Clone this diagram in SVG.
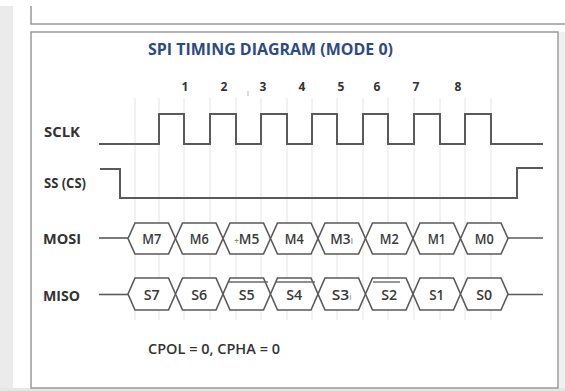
<svg xmlns="http://www.w3.org/2000/svg" width="565" height="391" viewBox="0 0 565 391">
<style>
.bg{fill:#ffffff}
.frame{fill:none;stroke:#9a9a9a;stroke-width:1.5}
.grid{stroke:#e4e4e4;stroke-width:1}
.sig{fill:none;stroke:#5a5a5a;stroke-width:2;stroke-linejoin:miter}
.hex{fill:#ffffff;stroke:#5a5a5a;stroke-width:1.6}
.bus{stroke:#5a5a5a;stroke-width:1.6}
.lbl{font-family:"Open Sans","Liberation Sans",sans-serif;font-weight:700;font-size:13.5px;fill:#333333}
.num{font-family:"Open Sans","Liberation Sans",sans-serif;font-weight:700;font-size:12px;fill:#333333;text-anchor:middle}
.hx{font-family:"Open Sans","Liberation Sans",sans-serif;font-weight:600;font-size:14px;fill:#3a3a3a;text-anchor:middle}
.title{font-family:"Open Sans","Liberation Sans",sans-serif;font-weight:700;font-size:15.5px;fill:#2c4a86}
.note{font-family:"Open Sans","Liberation Sans",sans-serif;font-weight:600;font-size:14.5px;fill:#333333}
</style>
<rect class="bg" x="0" y="0" width="565" height="391"/>
<rect x="0" y="6" width="13" height="385" fill="#ebebeb"/>
<rect x="559" y="32" width="6" height="359" fill="#f0f0f0"/>
<rect x="0" y="388" width="565" height="3" fill="#e6e6e6"/>
<path class="frame" d="M31,6 V24 H565"/>
<rect class="frame" x="31" y="32" width="527" height="356"/>

<g id="title"><text class="title" x="148" y="55" textLength="245" lengthAdjust="spacingAndGlyphs">SPI TIMING DIAGRAM (MODE 0)</text></g>

<g id="grid">
<line class="grid" x1="135" y1="98" x2="135" y2="320"/>
<line class="grid" x1="159" y1="98" x2="159" y2="320"/>
<line class="grid" x1="184" y1="98" x2="184" y2="320"/>
<line class="grid" x1="210" y1="98" x2="210" y2="320"/>
<line class="grid" x1="236" y1="98" x2="236" y2="320"/>
<line class="grid" x1="261" y1="98" x2="261" y2="320"/>
<line class="grid" x1="287" y1="98" x2="287" y2="320"/>
<line class="grid" x1="312" y1="98" x2="312" y2="320"/>
<line class="grid" x1="337" y1="98" x2="337" y2="320"/>
<line class="grid" x1="363" y1="98" x2="363" y2="320"/>
<line class="grid" x1="388" y1="98" x2="388" y2="320"/>
<line class="grid" x1="414" y1="98" x2="414" y2="320"/>
<line class="grid" x1="440" y1="98" x2="440" y2="320"/>
<line class="grid" x1="465" y1="98" x2="465" y2="320"/>
<line class="grid" x1="491" y1="98" x2="491" y2="320"/>
<line x1="248" y1="91" x2="248" y2="96" stroke="#bbbbbb" stroke-width="1"/>
</g>

<g id="numbers">
<text class="num" x="185" y="91">1</text>
<text class="num" x="224" y="91">2</text>
<text class="num" x="263" y="91">3</text>
<text class="num" x="302" y="91">4</text>
<text class="num" x="341" y="91">5</text>
<text class="num" x="377" y="91">6</text>
<text class="num" x="416" y="91">7</text>
<text class="num" x="458" y="91">8</text>
</g>

<g id="labels">
<text class="lbl" x="44" y="137" textLength="36" lengthAdjust="spacingAndGlyphs">SCLK</text>
<text class="lbl" x="44" y="188" textLength="42" lengthAdjust="spacingAndGlyphs">SS (CS)</text>
<text class="lbl" x="43" y="244" textLength="38" lengthAdjust="spacingAndGlyphs">MOSI</text>
<text class="lbl" x="43" y="301" textLength="37" lengthAdjust="spacingAndGlyphs">MISO</text>
</g>

<g id="sclk">
<path class="sig" d="M99,144 H159 V114 H184 V144 H210 V114 H236 V144 H261 V114 H287 V144 H312 V114 H337 V144 H363 V114 H388 V144 H414 V114 H440 V144 H465 V114 H491 V144 H543"/>
</g>

<g id="ss">
<path class="sig" d="M100,169 H120 V198 H517 V168 H543"/>
</g>

<g id="mosi">
<line class="bus" x1="99" y1="238" x2="128" y2="238"/>
<line class="bus" x1="508" y1="238" x2="543" y2="238"/>
<polygon class="hex" points="128,238.5 135,223 168.5,223 175.5,238.5 168.5,254 135,254"/>
<polygon class="hex" points="175.5,238.5 182.5,223 216,223 223,238.5 216,254 182.5,254"/>
<polygon class="hex" points="223,238.5 230,223 263.5,223 270.5,238.5 263.5,254 230,254"/>
<polygon class="hex" points="270.5,238.5 277.5,223 311,223 318,238.5 311,254 277.5,254"/>
<polygon class="hex" points="318,238.5 325,223 358.5,223 365.5,238.5 358.5,254 325,254"/>
<polygon class="hex" points="365.5,238.5 372.5,223 406,223 413,238.5 406,254 372.5,254"/>
<polygon class="hex" points="413,238.5 420,223 453.5,223 460.5,238.5 453.5,254 420,254"/>
<polygon class="hex" points="460.5,238.5 467.5,223 501,223 508,238.5 501,254 467.5,254"/>
<text class="hx" x="151.75" y="243.5" textLength="19" lengthAdjust="spacingAndGlyphs">M7</text>
<text class="hx" x="199.25" y="243.5" textLength="19" lengthAdjust="spacingAndGlyphs">M6</text>
<text class="hx" x="246.75" y="243.5" textLength="25" lengthAdjust="spacingAndGlyphs"><tspan font-size="8" fill="#888888">+</tspan>M5</text>
<text class="hx" x="294.25" y="243.5" textLength="19" lengthAdjust="spacingAndGlyphs">M4</text>
<text class="hx" x="341.75" y="243.5" textLength="23" lengthAdjust="spacingAndGlyphs">M3<tspan font-size="9" fill="#999999">I</tspan></text>
<text class="hx" x="389.25" y="243.5" textLength="19" lengthAdjust="spacingAndGlyphs">M2</text>
<text class="hx" x="436.75" y="243.5" textLength="18" lengthAdjust="spacingAndGlyphs">M1</text>
<text class="hx" x="484.25" y="243.5" textLength="19" lengthAdjust="spacingAndGlyphs">M0</text>
</g>

<g id="miso">
<line class="bus" x1="99" y1="294.5" x2="128" y2="294.5"/>
<line class="bus" x1="508" y1="294.5" x2="543" y2="294.5"/>
<polygon class="hex" points="128,294 135,278 168.5,278 175.5,294 168.5,310 135,310"/>
<polygon class="hex" points="175.5,294 182.5,278 216,278 223,294 216,310 182.5,310"/>
<polygon class="hex" points="223,294 230,278 263.5,278 270.5,294 263.5,310 230,310"/>
<polygon class="hex" points="270.5,294 277.5,278 311,278 318,294 311,310 277.5,310"/>
<polygon class="hex" points="318,294 325,278 358.5,278 365.5,294 358.5,310 325,310"/>
<polygon class="hex" points="365.5,294 372.5,278 406,278 413,294 406,310 372.5,310"/>
<polygon class="hex" points="413,294 420,278 453.5,278 460.5,294 453.5,310 420,310"/>
<polygon class="hex" points="460.5,294 467.5,278 501,278 508,294 501,310 467.5,310"/>
<line x1="229" y1="282" x2="268" y2="282" stroke="#6a6a6a" stroke-width="1.4"/>
<line x1="276" y1="282" x2="315" y2="282" stroke="#6a6a6a" stroke-width="1.4"/>
<line x1="373" y1="282" x2="400" y2="282" stroke="#6a6a6a" stroke-width="1.4"/>
<text class="hx" x="151.75" y="299.5" textLength="16" lengthAdjust="spacingAndGlyphs">S7</text>
<text class="hx" x="199.25" y="299.5" textLength="16" lengthAdjust="spacingAndGlyphs">S6</text>
<text class="hx" x="246.75" y="299.5" fill="#666666" textLength="16" lengthAdjust="spacingAndGlyphs">S5</text>
<text class="hx" x="294.25" y="299.5" textLength="16" lengthAdjust="spacingAndGlyphs">S4</text>
<text class="hx" x="341.75" y="299.5" fill="#666666" textLength="20" lengthAdjust="spacingAndGlyphs">S3<tspan font-size="8" fill="#aaaaaa">i</tspan></text>
<text class="hx" x="389.25" y="299.5" textLength="16" lengthAdjust="spacingAndGlyphs">S2</text>
<text class="hx" x="436.75" y="299.5" textLength="15" lengthAdjust="spacingAndGlyphs">S1</text>
<text class="hx" x="484.25" y="299.5" textLength="16" lengthAdjust="spacingAndGlyphs">S0</text>
</g>

<g id="note"><text class="note" x="148" y="354" textLength="132" lengthAdjust="spacingAndGlyphs">CPOL = 0, CPHA = 0</text></g>
</svg>
